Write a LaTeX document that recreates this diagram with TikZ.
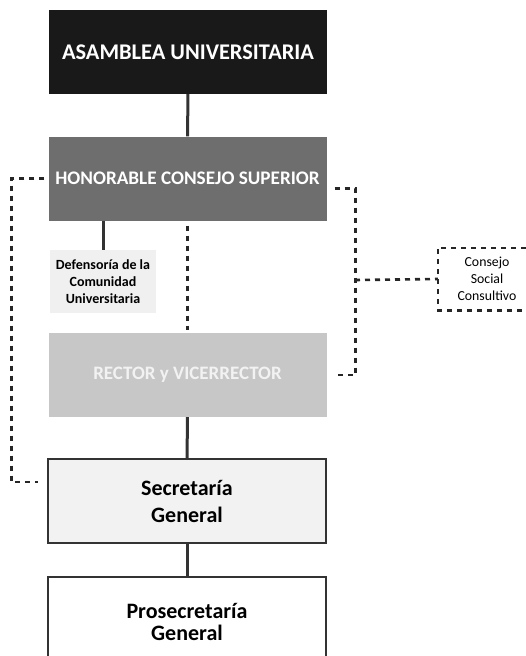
\documentclass[tikz,border=0pt]{standalone}
\usepackage{fontspec}
\setmainfont{Carlito}
\begin{document}
\begin{tikzpicture}[
		x=1pt,y=-1pt,
		link/.style = {draw=black!80, line width=3pt},
		dep/.style = {draw=black!85, line width=2.6pt, dash pattern=on 5pt off 5pt},
		unit/.style = {rectangle, minimum width=278pt, minimum height=84pt, align=center, inner sep=0pt, font=\bfseries}
	]
	\useasboundingbox (0,0) rectangle (525,656);
	\node (asamblea) [unit, fill=black!90, text=white, font=\bfseries\fontsize{22.4}{26}\selectfont] at (188,52) {ASAMBLEA UNIVERSITARIA};
	\node (consejoSup) [unit, fill=black!57, text=white, font=\bfseries\fontsize{19.2}{23}\selectfont] at (187.5,178.5) {HONORABLE CONSEJO SUPERIOR};
	\node (defensoria) [rectangle, fill=black!6, minimum width=106pt, minimum height=63pt, inner sep=0pt, align=center, font=\bfseries\fontsize{14}{17}\selectfont] at (103,281.5) {Defensoría de la\\Comunidad\\Universitaria};
	\node (rector) [unit, fill=black!22, text=black!5, font=\bfseries\fontsize{19}{23}\selectfont] at (187.5,375) {RECTOR y VICERRECTOR};
	\node (secretaria) [unit, fill=black!5, draw=black!80, line width=1.6pt, font=\bfseries\fontsize{22}{27}\selectfont] at (187,501) {Secretaría\\General};
	\node (prosecretaria) [unit, fill=white, draw=black!80, line width=1.6pt, minimum height=90pt, font=\bfseries\fontsize{22}{22}\selectfont] at (187,622) {Prosecretaría\\General};
	\node (consejoSocial) [rectangle, minimum width=98pt, minimum height=62pt, inner sep=0pt, align=center, font=\fontsize{13.8}{17}\selectfont] at (487,279) {Consejo\\Social\\Consultivo};
	\coordinate (secIn) at (38,482);
	\coordinate (branch) at (355,280);

	\path [link] (asamblea) edge (consejoSup);
	\path [link] (rector) edge (secretaria);
	\path [link] (secretaria) edge (prosecretaria);
	\draw [link] (defensoria.north) -- (defensoria.north |- consejoSup.south);
	\draw [dep, shorten <=5pt, shorten >=3pt] (consejoSup.south) -- (rector.north);
	\draw [dep] ([xshift=-4pt]consejoSup.west) -- ++(-33,0) |- (secIn);
	\draw [dep] ([shift={(8pt,-10pt)}]consejoSup.east) -- ++(21,0) |- ([xshift=8pt]rector.east);
	\draw [dep] (branch) -- (consejoSocial.west);
	\draw [dep] (consejoSocial.north east) -- (consejoSocial.north west) -- (consejoSocial.south west) -- (consejoSocial.south east);
\end{tikzpicture}
\end{document}
